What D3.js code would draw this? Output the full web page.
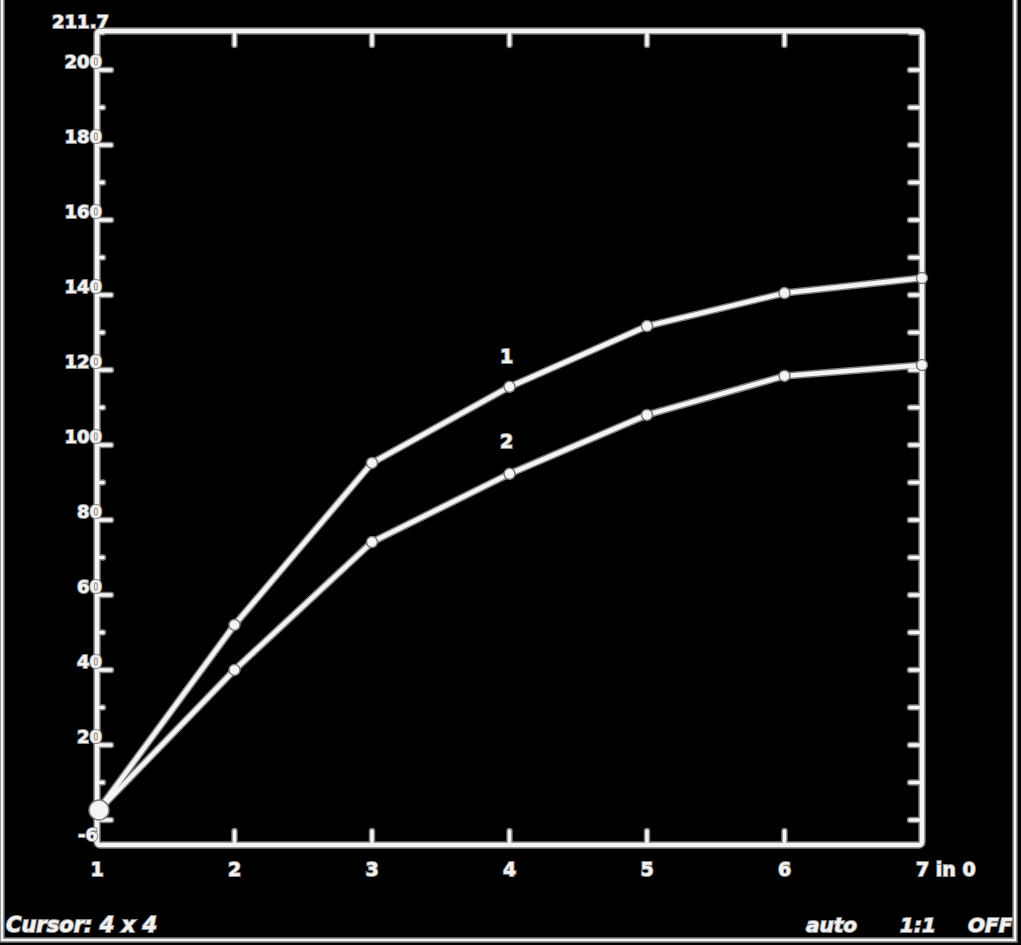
<!DOCTYPE html>
<html>
<head>
<meta charset="utf-8">
<script src="https://cdn.jsdelivr.net/npm/d3@7"></script>
<style>
  html, body { margin: 0; padding: 0; background: #000; }
  text { font-family: "DejaVu Sans", sans-serif; font-weight: bold; fill: #f2f2f2; stroke: #8a8a8a; stroke-width: 2px; paint-order: stroke; }
</style>
</head>
<body>
<div class="vis-plot"></div>
<script>
// data
const xValues = [1, 2, 3, 4, 5, 6, 7];
const series1 = [2.1, 52, 95.2, 115.5, 131.7, 140.5, 144.5];
const series2 = [2.1, 40, 74.1, 92.3, 108, 118.4, 121.3];
const seriesNames = ['1', '2'];
const yTickLabels = ['200', '180', '160', '140', '120', '100', '80', '60', '40', '20'];
const xTickLabels = ['1', '2', '3', '4', '5', '6', '7 in 0'];
const yMinLabel = '-6';
const yMaxLabel = '211.7';
const yMin = -6.7;
const yMax = 210.4;
const statusLeft = 'Cursor: 4 x 4';
const statusRight = ['auto', '1:1', 'OFF'];

const W = 1021, H = 945;
const margin = { top: 31, right: 99, bottom: 100, left: 97 };
const width = W - margin.left - margin.right;
const height = H - margin.top - margin.bottom;

const root = d3.select('.vis-plot').append('svg')
  .attr('width', W).attr('height', H)
  .style('display', 'block')
  .style('background', '#000');

// glow helper: gray halo under a white stroke
const glow = (sel, w) => {
  sel.clone(true).lower().attr('stroke', '#7a7a7a').attr('stroke-width', w + 3);
  sel.attr('stroke', '#f4f4f4').attr('stroke-width', w);
};

// outer screen border (left, right, bottom)
const border = root.append('g').attr('fill', 'none');
glow(border.append('path').attr('d', 'M2,0 V940 H1015 V0'), 2.5);

const svg = root.append('g').attr('transform', `translate(${margin.left},${margin.top})`);

const x = d3.scaleLinear().domain([1, 7]).range([0, width]);
const y = d3.scaleLinear().domain([yMin, yMax]).range([height, 0]);

const ticks = svg.append('g').attr('fill', 'none');
const tickPath = [];
d3.range(0, 211, 10).forEach((v) => {
  const yy = y(v);
  const major = v % 20 === 0;
  tickPath.push(`M0,${yy} h${major ? 14 : 6}`);
  tickPath.push(`M${width},${yy} h-12`);
});
xValues.slice(1, -1).forEach((v) => {
  tickPath.push(`M${x(v)},${height} v-14`);
  tickPath.push(`M${x(v)},0 v14`);
});
glow(ticks.append('path').attr('d', tickPath.join(' ')).attr('stroke-linecap', 'round'), 3.5);

// frame
glow(svg.append('rect')
  .attr('x', 0).attr('y', 0).attr('width', width).attr('height', height)
  .attr('rx', 3).attr('fill', 'none'), 4.5);

// y labels
svg.append('g').selectAll('text')
  .data(yTickLabels)
  .enter().append('text')
  .attr('x', 5).attr('y', (d) => y(+d) - 2)
  .attr('text-anchor', 'end')
  .attr('font-size', 18)
  .text((d) => d);
svg.append('text').attr('x', 12).attr('y', -3).attr('text-anchor', 'end').attr('font-size', 18).text(yMaxLabel);
svg.append('text').attr('x', 1).attr('y', height - 4).attr('text-anchor', 'end').attr('font-size', 18).text(yMinLabel);

// x labels
svg.append('g').selectAll('text')
  .data(xTickLabels)
  .enter().append('text')
  .attr('x', (d, i) => x(xValues[i]))
  .attr('y', height + 31)
  .attr('text-anchor', (d, i) => (i === xTickLabels.length - 1 ? 'start' : 'middle'))
  .attr('dx', (d, i) => (i === xTickLabels.length - 1 ? -6 : 0))
  .attr('font-size', 19)
  .text((d) => d);

// series lines
const line = d3.line().x((d, i) => x(xValues[i])).y((d) => y(d));
[series1, series2].forEach((s) => {
  glow(svg.append('path').datum(s).attr('d', line).attr('fill', 'none').attr('stroke-linejoin', 'round'), 4.5);
  svg.append('g').selectAll('circle')
    .data(s.slice(1))
    .enter().append('circle')
    .attr('cx', (d, i) => x(xValues[i + 1]))
    .attr('cy', (d) => y(d))
    .attr('r', 5.5)
    .attr('fill', '#f4f4f4')
    .attr('stroke', '#7a7a7a')
    .attr('stroke-width', 1.5);
});
svg.append('circle').attr('cx', x(1) + 2).attr('cy', y(series1[0]) - 2).attr('r', 10)
  .attr('fill', '#f4f4f4').attr('stroke', '#7a7a7a').attr('stroke-width', 1.5);

// series labels
svg.append('text').attr('x', x(4) - 3).attr('y', y(series1[3]) - 24).attr('text-anchor', 'middle').attr('font-size', 19).text(seriesNames[0]);
svg.append('text').attr('x', x(4) - 3).attr('y', y(series2[3]) - 26).attr('text-anchor', 'middle').attr('font-size', 19).text(seriesNames[1]);

// status bar
root.append('text').attr('x', 6).attr('y', 932).attr('font-size', 21).attr('font-style', 'italic').text(statusLeft);
const statusX = [806, 900, 968];
root.append('g').selectAll('text')
  .data(statusRight)
  .enter().append('text')
  .attr('x', (d, i) => statusX[i])
  .attr('y', 932)
  .attr('font-size', 20)
  .attr('font-style', 'italic')
  .text((d) => d);
</script>
</body>
</html>
